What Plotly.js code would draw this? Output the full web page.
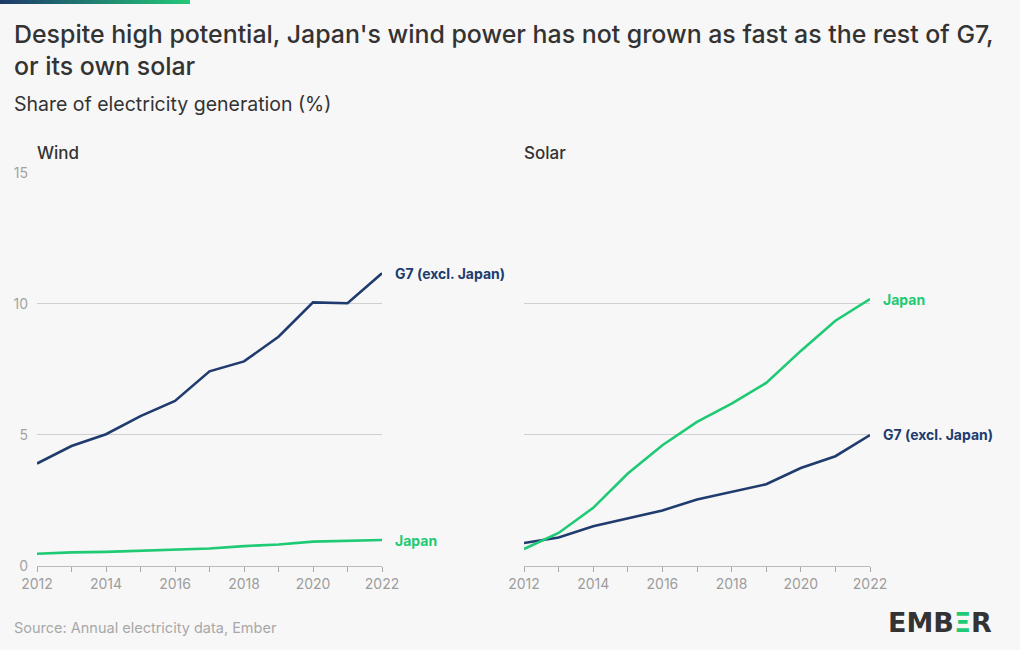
<!DOCTYPE html>
<html>
<head>
<meta charset="utf-8">
<script src="https://cdn.plot.ly/plotly-3.0.1.min.js"></script>
<style>
  html, body { margin:0; padding:0; background:#f7f7f7; }
  #wrap { position:relative; width:1020px; height:650px; }
  #bar { position:absolute; left:0; top:0; width:190px; height:4px;
         background:linear-gradient(to right, #1e3a6b, #22c978); z-index:5; }
  #chart { width:1020px; height:650px; }
</style>
</head>
<body>
<div id="wrap">
  <div id="bar"></div>
  <div id="chart"></div>
</div>
<script>
const years = [2012, 2013, 2014, 2015, 2016, 2017, 2018, 2019, 2020, 2021, 2022];
const windG7 = [3.91, 4.58, 5.03, 5.72, 6.30, 7.43, 7.81, 8.75, 10.06, 10.03, 11.17];
const windJapan = [0.47, 0.52, 0.54, 0.58, 0.64, 0.67, 0.76, 0.82, 0.93, 0.97, 0.99];
const solarG7 = [0.88, 1.09, 1.52, 1.83, 2.12, 2.54, 2.82, 3.12, 3.74, 4.19, 5.0];
const solarJapan = [0.65, 1.26, 2.22, 3.53, 4.61, 5.50, 6.20, 6.99, 8.21, 9.36, 10.19];
const yTicks = [0, 5, 10, 15];
const xTicks = [2012, 2014, 2016, 2018, 2020, 2022];
const seriesNames = ["G7 (excl. Japan)", "Japan"];
const panelTitles = ["Wind", "Solar"];

const NAVY = "#203b6e";
const GREEN = "#1fca74";
const FONT = "Inter, 'Noto Sans', sans-serif";

function line(x, y, color, xa, ya, name) {
  return { x: x, y: y, type: "scatter", mode: "lines", name: name,
           xaxis: xa, yaxis: ya, hoverinfo: "skip",
           line: { color: color, width: 2.6 } };
}

const data = [
  line(years, windG7, NAVY, "x", "y", seriesNames[0]),
  line(years, windJapan, GREEN, "x", "y", seriesNames[1]),
  line(years, solarG7, NAVY, "x2", "y2", seriesNames[0]),
  line(years, solarJapan, GREEN, "x2", "y2", seriesNames[1])
];

const yDom = [0.12923, 0.73385];
function xAxis(dom) {
  return {
    domain: dom, range: [2012, 2022], fixedrange: true,
    tickmode: "array", tickvals: years,
    ticktext: years.map(v => xTicks.includes(v) ? String(v) : ""),
    ticks: "outside", ticklen: 5, tickcolor: "#aaaaaa", tickwidth: 1,
    showline: true, linecolor: "#bbbbbb", linewidth: 1,
    showgrid: false, zeroline: false,
    tickfont: { family: FONT, size: 14, color: "#9d9d9d" }
  };
}
function yAxis(anchor, showLabels) {
  return {
    domain: yDom, range: [0, 15], fixedrange: true, anchor: anchor,
    tickmode: "array", tickvals: yTicks, ticktext: yTicks.map(String),
    showticklabels: showLabels, ticks: "",
    ticklabelstandoff: 8,
    showgrid: true, gridcolor: "#cfcfcf", gridwidth: 1,
    zeroline: false, showline: false,
    tickfont: { family: FONT, size: 14, color: "#a3a3a3" }
  };
}

const lastIdx = years.length - 1;
function endLabel(text, xa, ya, y, color) {
  return { text: "<b>" + text + "</b>", xref: xa, yref: ya, x: years[lastIdx], y: y,
           xanchor: "left", yanchor: "middle", xshift: 11, showarrow: false,
           font: { family: FONT, size: 14, color: color } };
}

const annotations = [
  { text: "Despite high potential, Japan's wind power has not grown as fast as the rest of G7,<br>or its own solar",
    xref: "paper", yref: "paper", x: 12/1020, y: 1 - 50/650,
    xanchor: "left", yanchor: "middle", align: "left", showarrow: false,
    font: { family: FONT, size: 24.9, color: "#333333", weight: 500 } },
  { text: "Share of electricity generation (%)", xref: "paper", yref: "paper",
    x: 12/1020, y: 1 - 104/650, xanchor: "left", yanchor: "middle", showarrow: false,
    font: { family: FONT, size: 19.5, color: "#333333" } },
  { text: panelTitles[0], xref: "paper", yref: "paper",
    x: 35/1020, y: 1 - 153/650, xanchor: "left", yanchor: "middle", showarrow: false,
    font: { family: FONT, size: 17, color: "#333333", weight: 500 } },
  { text: panelTitles[1], xref: "paper", yref: "paper",
    x: 522/1020, y: 1 - 153/650, xanchor: "left", yanchor: "middle", showarrow: false,
    font: { family: FONT, size: 17, color: "#333333", weight: 500 } },
  endLabel(seriesNames[0], "x", "y", windG7[lastIdx], NAVY),
  endLabel(seriesNames[1], "x", "y", windJapan[lastIdx], GREEN),
  endLabel(seriesNames[1], "x2", "y2", solarJapan[lastIdx], GREEN),
  endLabel(seriesNames[0], "x2", "y2", solarG7[lastIdx], NAVY),
  { text: "Source: Annual electricity data, Ember", xref: "paper", yref: "paper",
    x: 12/1020, y: 1 - 627/650, xanchor: "left", yanchor: "middle", showarrow: false,
    font: { family: FONT, size: 14.5, color: "#a8a8a8" } },
  { text: "<b>EMB<span style='color:" + GREEN + "'>Ξ</span>R</b>", xref: "paper", yref: "paper",
    x: 994/1020, y: 1 - 622/650, xanchor: "right", yanchor: "middle", showarrow: false,
    font: { family: "'DejaVu Sans', sans-serif", size: 27, color: "#333333" } }
];

const layout = {
  width: 1020, height: 650,
  margin: { l: 0, r: 0, t: 0, b: 0 },
  paper_bgcolor: "#f7f7f7", plot_bgcolor: "#f7f7f7",
  showlegend: false,
  xaxis: xAxis([37/1020, 382/1020]),
  yaxis: yAxis("x", true),
  xaxis2: xAxis([524/1020, 870/1020]),
  yaxis2: yAxis("x2", false),
  annotations: annotations
};

Plotly.newPlot("chart", data, layout, { displayModeBar: false, staticPlot: true });
</script>
</body>
</html>
